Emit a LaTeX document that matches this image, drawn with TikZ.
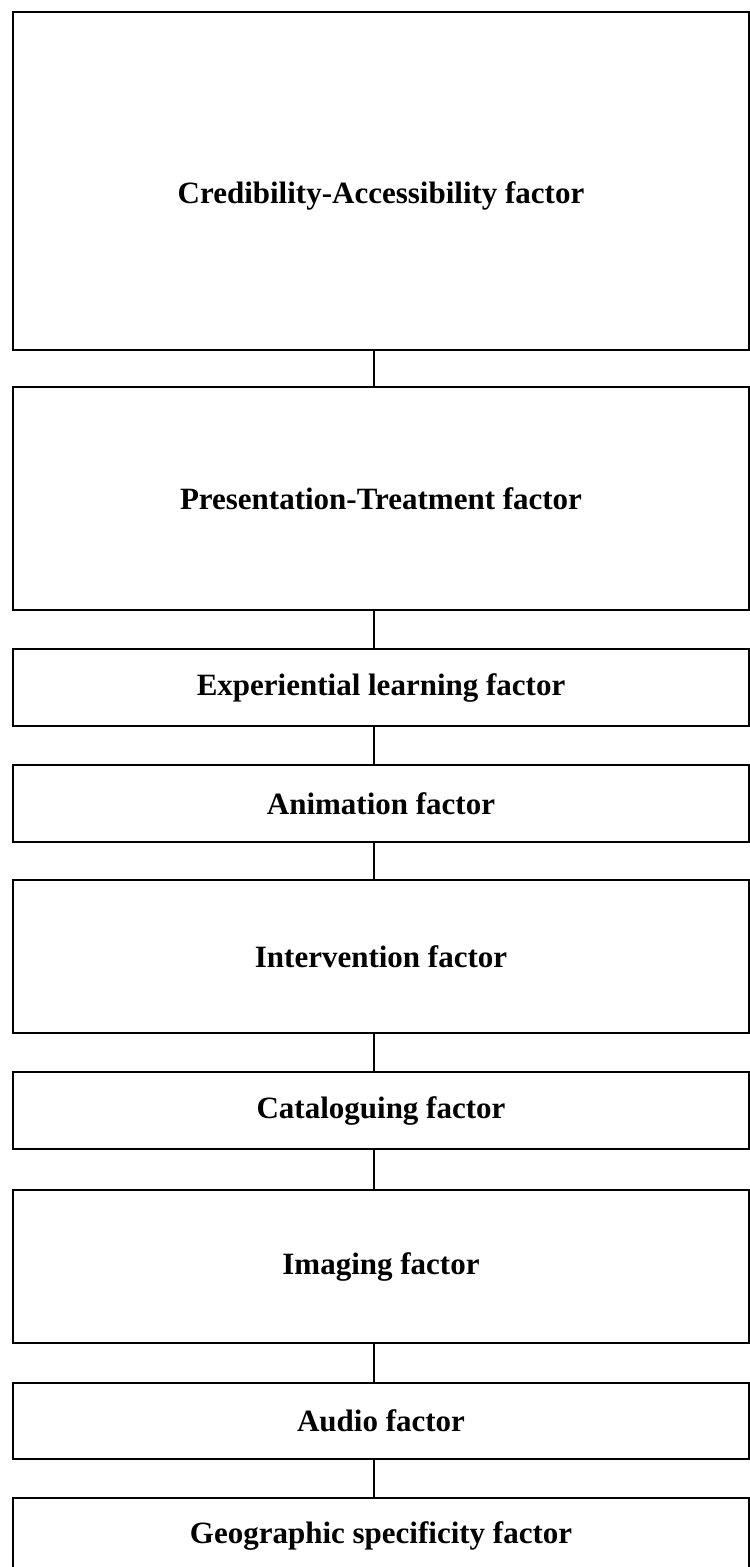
\documentclass[tikz,border=0pt]{standalone}
\usepackage{fontspec}
\setmainfont{Liberation Serif}
\begin{document}
\begin{tikzpicture}[x=1pt,y=-1pt,
  factorbox/.style={draw=black, line width=1.8pt, minimum width=736pt, inner sep=0pt,
    font=\fontsize{31}{34}\selectfont\bfseries, text=black},
  link/.style={draw=black, line width=1.4pt}]
\useasboundingbox (0,0) rectangle (750,1567);
\node[factorbox, minimum height=338pt, text height=51pt, text depth=7pt] (b1) at (381,181) {Credibility-Accessibility factor};
\node[factorbox, minimum height=223pt] (b2) at (381,498.5) {Presentation-Treatment factor};
\node[factorbox, minimum height=77pt] (b3) at (381,687.5) {Experiential learning factor};
\node[factorbox, minimum height=77pt] (b4) at (381,803.5) {Animation factor};
\node[factorbox, minimum height=153pt] (b5) at (381,956.5) {Intervention factor};
\node[factorbox, minimum height=77pt] (b6) at (381,1110.5) {Cataloguing factor};
\node[factorbox, minimum height=153pt] (b7) at (381,1266.5) {Imaging factor};
\node[factorbox, minimum height=76pt] (b8) at (381,1421) {Audio factor};
\node[factorbox, minimum height=76pt] (b9) at (381,1536) {Geographic specificity factor};
\foreach \a/\b in {b1/b2,b2/b3,b3/b4,b4/b5,b5/b6,b6/b7,b7/b8,b8/b9}
  \draw[link] ([xshift=-7pt]\a.south) -- ([xshift=-7pt]\b.north);
\end{tikzpicture}
\end{document}
